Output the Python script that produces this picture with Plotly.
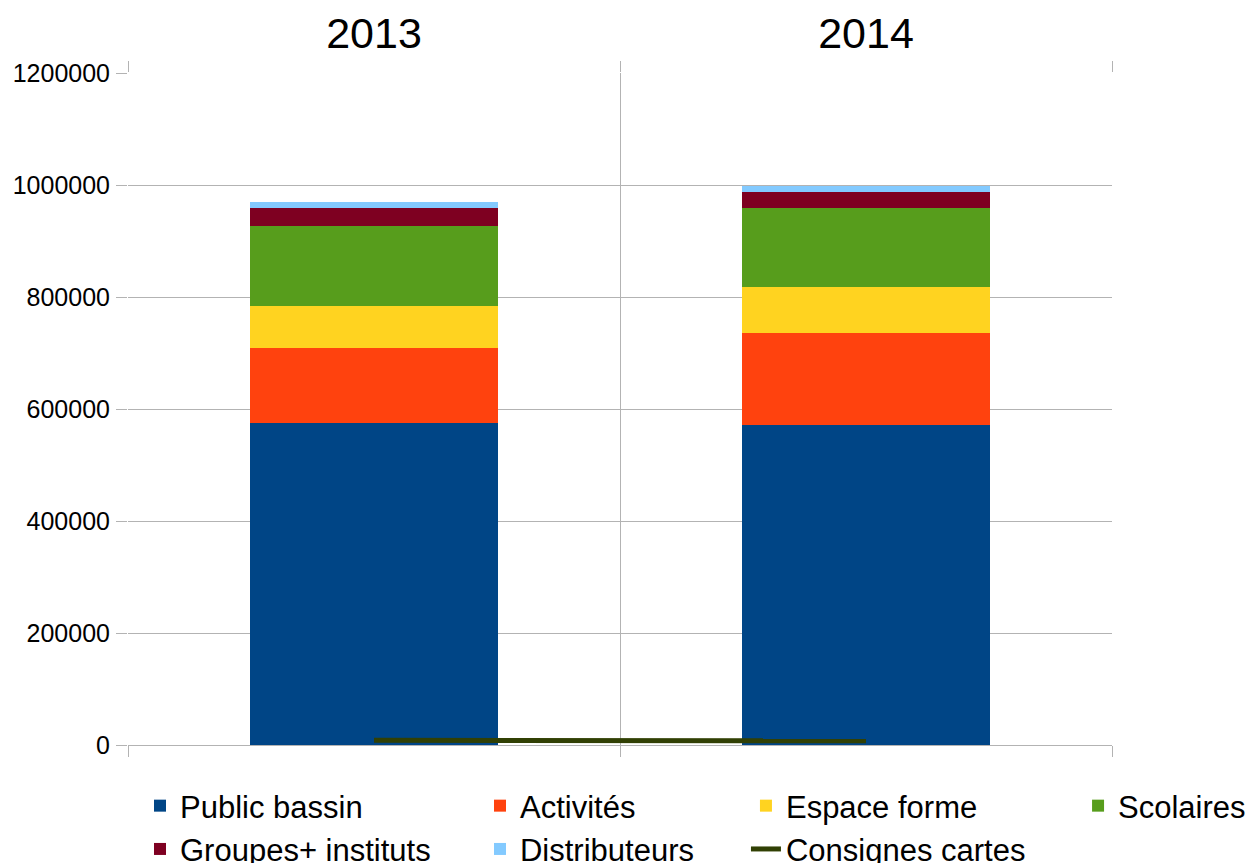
import plotly.graph_objects as go

years = ["2013", "2014"]
public_bassin = [575000, 571000]
activites = [134000, 165000]
espace_forme = [75000, 82000]
scolaires = [143000, 141000]
groupes = [32000, 28500]
distributeurs = [11000, 10500]
consignes = [8500, 7500]

bar_series = [
    ("Public bassin", public_bassin, "#004586", "legend"),
    ("Activités", activites, "#ff420e", "legend2"),
    ("Espace forme", espace_forme, "#ffd320", "legend3"),
    ("Scolaires", scolaires, "#579d1c", "legend4"),
    ("Groupes+ instituts", groupes, "#7e0021", "legend"),
    ("Distributeurs", distributeurs, "#83caff", "legend2"),
]

fig = go.Figure()
for name, vals, col, lg in bar_series:
    fig.add_trace(go.Bar(x=years, y=vals, name=name, marker=dict(color=col, line=dict(width=0)),
                         width=0.504, legend=lg, legendgroup=name))
fig.add_trace(go.Scatter(x=years, y=consignes, name="Consignes cartes", mode="lines",
                         line=dict(color="#314004", width=5), legend="legend3",
                         legendgroup="Consignes cartes"))

font = "Liberation Sans, Arial, sans-serif"
grid = "#b3b3b3"
lfont = dict(family=font, size=31, color="black")
ly = -0.0506
common = dict(orientation="v", yanchor="top", y=ly, xanchor="left", font=lfont,
              bgcolor="rgba(0,0,0,0)", borderwidth=0, tracegroupgap=3, traceorder="normal")

fig.update_layout(
    width=1246, height=855,
    paper_bgcolor="white", plot_bgcolor="white",
    margin=dict(l=120, r=142, t=65, b=118, autoexpand=False),
    barmode="stack",
    font=dict(family=font, color="black"),
    legend=dict(x=0.0122, **common),
    legend2=dict(x=0.3577, **common),
    legend3=dict(x=0.628, **common),
    legend4=dict(x=0.9655, **common),
    xaxis=dict(side="top", tickson="boundaries", showgrid=True, gridcolor=grid, gridwidth=1,
               ticks="outside", ticklen=11, tickcolor=grid, mirror="ticks", showline=False,
               ticklabelstandoff=15,
               tickfont=dict(family=font, size=43, color="black"), range=[-0.5, 1.5]),
    yaxis=dict(range=[0, 1200000], dtick=200000, showgrid=True, gridcolor=grid, gridwidth=1,
               zeroline=True, zerolinecolor=grid, zerolinewidth=1, ticks="outside", ticklen=11,
               tickcolor=grid, showline=False, tickformat="d", ticklabelstandoff=1,
               tickfont=dict(family=font, size=25, color="black")),
)

fig.write_html("out.html")
